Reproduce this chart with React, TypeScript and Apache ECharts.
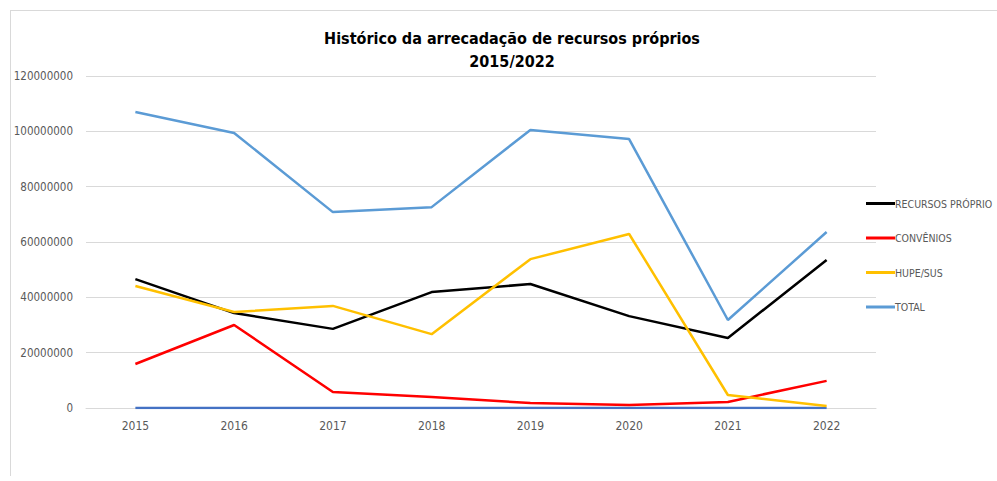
import React, { useEffect, useRef } from "react";
import * as echarts from "echarts";

const years = ["2015", "2016", "2017", "2018", "2019", "2020", "2021", "2022"];
const recursosProprios = [46600000, 34300000, 28600000, 41900000, 44800000, 33200000, 25300000, 53500000];
const convenios = [15900000, 30000000, 5800000, 4000000, 1800000, 1100000, 2200000, 9800000];
const hupeSus = [44100000, 34700000, 36900000, 26700000, 53800000, 62900000, 4700000, 700000];
const total = [107000000, 99400000, 70800000, 72600000, 100500000, 97200000, 31800000, 63600000];
const ano = [2015, 2016, 2017, 2018, 2019, 2020, 2021, 2022];

const FONT = "'DejaVu Sans Condensed', 'Liberation Sans', sans-serif";

export default function App() {
  const ref = useRef<HTMLDivElement>(null);
  useEffect(() => {
    if (!ref.current) return;
    const chart = echarts.init(ref.current, null, { renderer: "svg" });
    const mk = (name: string, data: number[], color: string, width = 2.5) => ({
      name,
      type: "line",
      data,
      symbol: "none",
      lineStyle: { color, width },
      itemStyle: { color },
      z: 3,
    });
    chart.setOption({
      animation: false,
      backgroundColor: "#ffffff",
      title: {
        text: "Histórico da arrecadação de recursos próprios\n2015/2022",
        left: 507,
        textAlign: "center",
        top: 22,
        textStyle: {
          fontFamily: FONT,
          fontSize: 16,
          fontWeight: "bold",
          color: "#000000",
          lineHeight: 23,
        },
      },
      graphic: [
        { type: "line", shape: { x1: 10.5, y1: 10, x2: 10.5, y2: 476 }, style: { stroke: "#d9d9d9", lineWidth: 1 } },
        { type: "line", shape: { x1: 10, y1: 10.5, x2: 997, y2: 10.5 }, style: { stroke: "#d9d9d9", lineWidth: 1 } },
      ],
      legend: {
        orient: "vertical",
        left: 861,
        top: 193,
        icon: "rect",
        itemWidth: 29,
        itemHeight: 3,
        itemGap: 23.5,
        data: ["RECURSOS PRÓPRIO", "CONVÊNIOS", "HUPE/SUS", "TOTAL"],
        textStyle: { fontFamily: FONT, fontSize: 10.5, color: "#595959", padding: [0, 0, 0, -5] },
      },
      grid: { left: 86, right: 121, top: 76, bottom: 73 },
      xAxis: {
        type: "category",
        data: years,
        boundaryGap: true,
        axisLine: { lineStyle: { color: "#d9d9d9", width: 1 } },
        axisTick: { show: false },
        axisLabel: { color: "#595959", fontFamily: FONT, fontSize: 12, margin: 12 },
      },
      yAxis: {
        type: "value",
        min: 0,
        max: 120000000,
        interval: 20000000,
        axisLine: { show: false },
        axisTick: { show: false },
        splitLine: { lineStyle: { color: "#d9d9d9", width: 1 } },
        axisLabel: {
          color: "#595959",
          fontFamily: FONT,
          fontSize: 11.5,
          margin: 13,
          formatter: (v: number) => String(v),
        },
      },
      series: [
        mk("RECURSOS PRÓPRIO", recursosProprios, "#000000"),
        mk("CONVÊNIOS", convenios, "#ff0000"),
        mk("HUPE/SUS", hupeSus, "#ffc000"),
        mk("TOTAL", total, "#5b9bd5"),
        { ...mk("ANO", ano, "#4472c4", 2.5), z: 2 },
      ],
    });
    return () => chart.dispose();
  }, []);
  return (
    <div
      ref={ref}
      style={{ position: "fixed", left: 0, top: 0, width: 997, height: 481 }}
    />
  );
}
